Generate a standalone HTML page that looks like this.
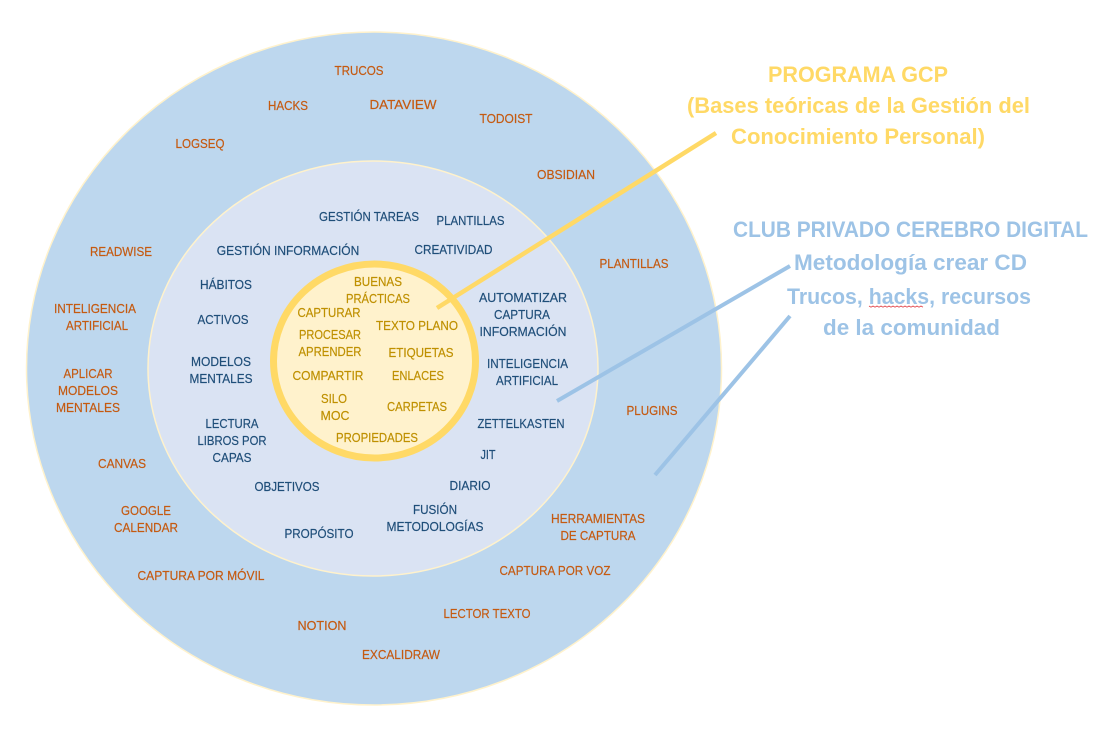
<!DOCTYPE html>
<html lang="es">
<head>
<meta charset="utf-8">
<title>Diagrama</title>
<style>
html,body{margin:0;padding:0;background:#fff;width:1116px;height:732px;overflow:hidden}
svg{display:block}
text{font-family:"Liberation Sans",Arial,sans-serif;text-anchor:middle}
.o{fill:#C55A11;stroke:#C55A11;stroke-width:.2px;font-size:13px}
.m{fill:#1F4E79;stroke:#1F4E79;stroke-width:.2px;font-size:13px}
.i{fill:#BF9000;stroke:#BF9000;stroke-width:.2px;font-size:13px}
.y{fill:#FFD966;font-size:22px;font-weight:bold}
.b{fill:#9DC3E6;font-size:22px;font-weight:bold}
</style>
</head>
<body>
<svg width="1116" height="732" viewBox="0 0 1116 732" xmlns="http://www.w3.org/2000/svg">
<rect width="1116" height="732" fill="#fff"/>
<ellipse cx="374" cy="368.5" rx="347.5" ry="336.5" fill="#BDD7EE" stroke="#FFF2CC" stroke-width="1.5"/>
<ellipse cx="373" cy="368.5" rx="225" ry="207.5" fill="#DAE3F3" stroke="#FFF2CC" stroke-width="1.5"/>
<ellipse cx="374.5" cy="361" rx="101" ry="97" fill="#FFF2CC" stroke="#FFD966" stroke-width="7"/>

<line x1="437" y1="308" x2="716" y2="133" stroke="#FFD966" stroke-width="4.5"/>
<line x1="557" y1="401" x2="790" y2="266" stroke="#9DC3E6" stroke-width="4"/>
<line x1="655" y1="475" x2="790" y2="316" stroke="#9DC3E6" stroke-width="4"/>

<g>
<text class="o" x="359" y="75" textLength="49" lengthAdjust="spacingAndGlyphs">TRUCOS</text>
<text class="o" x="288" y="110" textLength="40" lengthAdjust="spacingAndGlyphs">HACKS</text>
<text class="o" x="403" y="109" textLength="67" lengthAdjust="spacingAndGlyphs">DATAVIEW</text>
<text class="o" x="506" y="123" textLength="53" lengthAdjust="spacingAndGlyphs">TODOIST</text>
<text class="o" x="200" y="148" textLength="49" lengthAdjust="spacingAndGlyphs">LOGSEQ</text>
<text class="o" x="566" y="179" textLength="58" lengthAdjust="spacingAndGlyphs">OBSIDIAN</text>
<text class="o" x="121" y="256" textLength="62" lengthAdjust="spacingAndGlyphs">READWISE</text>
<text class="o" x="634" y="268" textLength="69" lengthAdjust="spacingAndGlyphs">PLANTILLAS</text>
<text class="o" x="95" y="313" textLength="82" lengthAdjust="spacingAndGlyphs">INTELIGENCIA</text>
<text class="o" x="97" y="330" textLength="62" lengthAdjust="spacingAndGlyphs">ARTIFICIAL</text>
<text class="o" x="88" y="378" textLength="49" lengthAdjust="spacingAndGlyphs">APLICAR</text>
<text class="o" x="88" y="395" textLength="60" lengthAdjust="spacingAndGlyphs">MODELOS</text>
<text class="o" x="88" y="412" textLength="64" lengthAdjust="spacingAndGlyphs">MENTALES</text>
<text class="o" x="652" y="415" textLength="51" lengthAdjust="spacingAndGlyphs">PLUGINS</text>
<text class="o" x="122" y="468" textLength="48" lengthAdjust="spacingAndGlyphs">CANVAS</text>
<text class="o" x="146" y="515" textLength="50" lengthAdjust="spacingAndGlyphs">GOOGLE</text>
<text class="o" x="146" y="532" textLength="64" lengthAdjust="spacingAndGlyphs">CALENDAR</text>
<text class="o" x="598" y="523" textLength="94" lengthAdjust="spacingAndGlyphs">HERRAMIENTAS</text>
<text class="o" x="598" y="540" textLength="75" lengthAdjust="spacingAndGlyphs">DE CAPTURA</text>
<text class="o" x="555" y="575" textLength="111" lengthAdjust="spacingAndGlyphs">CAPTURA POR VOZ</text>
<text class="o" x="201" y="580" textLength="127" lengthAdjust="spacingAndGlyphs">CAPTURA POR MÓVIL</text>
<text class="o" x="487" y="618" textLength="87" lengthAdjust="spacingAndGlyphs">LECTOR TEXTO</text>
<text class="o" x="322" y="630" textLength="49" lengthAdjust="spacingAndGlyphs">NOTION</text>
<text class="o" x="401" y="659" textLength="78" lengthAdjust="spacingAndGlyphs">EXCALIDRAW</text>
</g>

<g>
<text class="m" x="369" y="221" textLength="100" lengthAdjust="spacingAndGlyphs">GESTIÓN TAREAS</text>
<text class="m" x="470.5" y="225" textLength="68" lengthAdjust="spacingAndGlyphs">PLANTILLAS</text>
<text class="m" x="288" y="255" textLength="142.5" lengthAdjust="spacingAndGlyphs">GESTIÓN INFORMACIÓN</text>
<text class="m" x="453.5" y="254" textLength="78" lengthAdjust="spacingAndGlyphs">CREATIVIDAD</text>
<text class="m" x="226" y="289" textLength="52" lengthAdjust="spacingAndGlyphs">HÁBITOS</text>
<text class="m" x="223" y="324" textLength="51" lengthAdjust="spacingAndGlyphs">ACTIVOS</text>
<text class="m" x="523" y="302" textLength="88" lengthAdjust="spacingAndGlyphs">AUTOMATIZAR</text>
<text class="m" x="522" y="319" textLength="56" lengthAdjust="spacingAndGlyphs">CAPTURA</text>
<text class="m" x="523" y="336" textLength="87" lengthAdjust="spacingAndGlyphs">INFORMACIÓN</text>
<text class="m" x="221" y="366" textLength="60" lengthAdjust="spacingAndGlyphs">MODELOS</text>
<text class="m" x="221" y="383" textLength="63" lengthAdjust="spacingAndGlyphs">MENTALES</text>
<text class="m" x="527.5" y="368" textLength="81" lengthAdjust="spacingAndGlyphs">INTELIGENCIA</text>
<text class="m" x="527" y="385" textLength="62" lengthAdjust="spacingAndGlyphs">ARTIFICIAL</text>
<text class="m" x="232" y="428" textLength="53" lengthAdjust="spacingAndGlyphs">LECTURA</text>
<text class="m" x="232" y="445" textLength="69" lengthAdjust="spacingAndGlyphs">LIBROS POR</text>
<text class="m" x="232" y="462" textLength="39" lengthAdjust="spacingAndGlyphs">CAPAS</text>
<text class="m" x="521" y="428" textLength="87" lengthAdjust="spacingAndGlyphs">ZETTELKASTEN</text>
<text class="m" x="488" y="459" textLength="15" lengthAdjust="spacingAndGlyphs">JIT</text>
<text class="m" x="287" y="491" textLength="65" lengthAdjust="spacingAndGlyphs">OBJETIVOS</text>
<text class="m" x="470" y="490" textLength="41" lengthAdjust="spacingAndGlyphs">DIARIO</text>
<text class="m" x="435" y="514" textLength="44" lengthAdjust="spacingAndGlyphs">FUSIÓN</text>
<text class="m" x="435" y="531" textLength="97" lengthAdjust="spacingAndGlyphs">METODOLOGÍAS</text>
<text class="m" x="319" y="538" textLength="69" lengthAdjust="spacingAndGlyphs">PROPÓSITO</text>
</g>

<g>
<text class="i" x="378" y="286" textLength="48" lengthAdjust="spacingAndGlyphs">BUENAS</text>
<text class="i" x="378" y="303" textLength="64" lengthAdjust="spacingAndGlyphs">PRÁCTICAS</text>
<text class="i" x="329" y="317" textLength="63" lengthAdjust="spacingAndGlyphs">CAPTURAR</text>
<text class="i" x="417" y="330" textLength="82" lengthAdjust="spacingAndGlyphs">TEXTO PLANO</text>
<text class="i" x="330" y="339" textLength="62" lengthAdjust="spacingAndGlyphs">PROCESAR</text>
<text class="i" x="330" y="356" textLength="63" lengthAdjust="spacingAndGlyphs">APRENDER</text>
<text class="i" x="421" y="357" textLength="65" lengthAdjust="spacingAndGlyphs">ETIQUETAS</text>
<text class="i" x="328" y="380" textLength="71" lengthAdjust="spacingAndGlyphs">COMPARTIR</text>
<text class="i" x="418" y="380" textLength="52" lengthAdjust="spacingAndGlyphs">ENLACES</text>
<text class="i" x="334" y="403" textLength="26" lengthAdjust="spacingAndGlyphs">SILO</text>
<text class="i" x="335" y="420" textLength="29" lengthAdjust="spacingAndGlyphs">MOC</text>
<text class="i" x="417" y="411" textLength="60" lengthAdjust="spacingAndGlyphs">CARPETAS</text>
<text class="i" x="377" y="442" textLength="82" lengthAdjust="spacingAndGlyphs">PROPIEDADES</text>
</g>

<text class="y" x="858" y="82" textLength="180" lengthAdjust="spacingAndGlyphs">PROGRAMA GCP</text>
<text class="y" x="858.5" y="113" textLength="343" lengthAdjust="spacingAndGlyphs">(Bases teóricas de la Gestión del</text>
<text class="y" x="858" y="144" textLength="254" lengthAdjust="spacingAndGlyphs">Conocimiento Personal)</text>

<text class="b" x="910.5" y="237" textLength="355" lengthAdjust="spacingAndGlyphs">CLUB PRIVADO CEREBRO DIGITAL</text>
<text class="b" x="910.5" y="270" textLength="233" lengthAdjust="spacingAndGlyphs">Metodología crear CD</text>
<text class="b" x="909" y="304" textLength="244" lengthAdjust="spacingAndGlyphs">Trucos, hacks, recursos</text>
<text class="b" x="911.5" y="335" textLength="177" lengthAdjust="spacingAndGlyphs">de la comunidad</text>
<path d="M869 306l2 1.2 2-1.2 2 1.2 2-1.2 2 1.2 2-1.2 2 1.2 2-1.2 2 1.2 2-1.2 2 1.2 2-1.2 2 1.2 2-1.2 2 1.2 2-1.2 2 1.2 2-1.2 2 1.2 2-1.2 2 1.2 2-1.2 2 1.2 2-1.2 2 1.2 2-1.2 2 1.2" fill="none" stroke="#E0393E" stroke-width="0.8"/>
</svg>
</body>
</html>
